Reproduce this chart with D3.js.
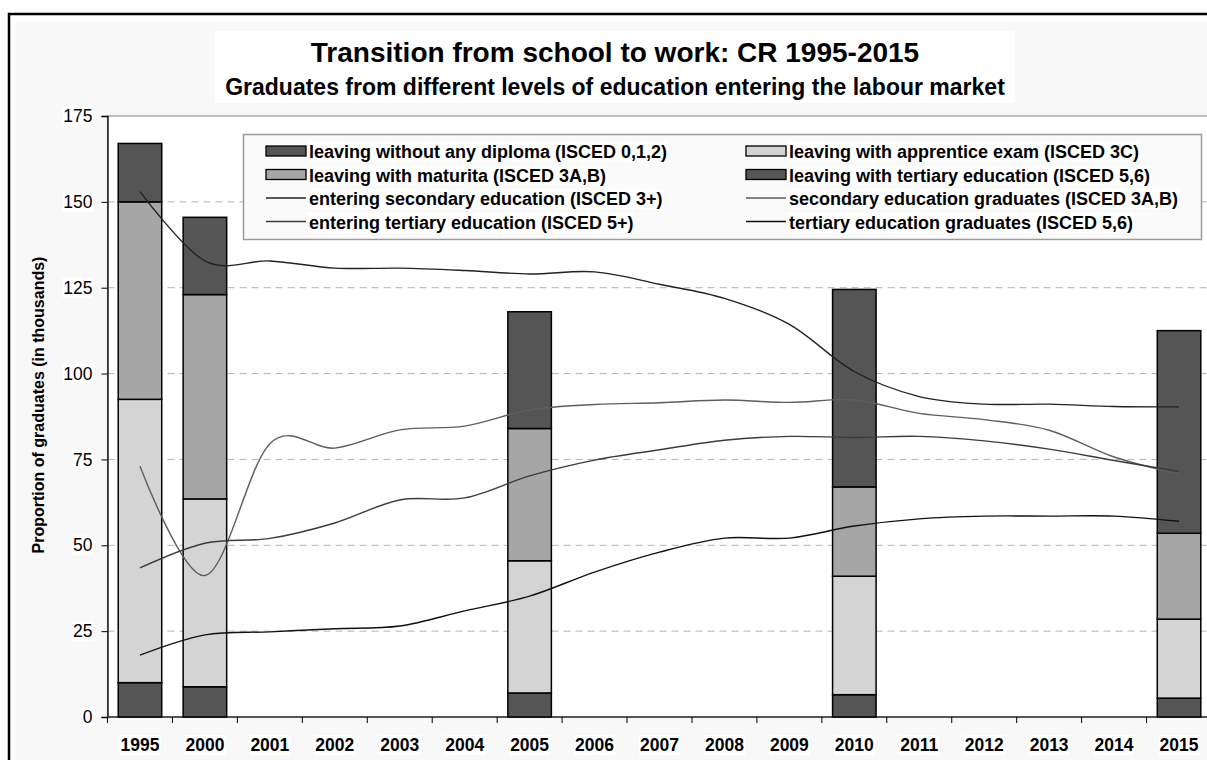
<!DOCTYPE html>
<html>
<head>
<meta charset="utf-8">
<script src="https://cdn.jsdelivr.net/npm/d3@7"></script>
<style>
  html, body { margin: 0; padding: 0; background: #ffffff; overflow: hidden; }
  svg { display: block; font-family: "Liberation Sans", Arial, sans-serif; }
</style>
</head>
<body>
<div id="chart"></div>
<script>
const categories = ['1995', '2000', '2001', '2002', '2003', '2004', '2005', '2006', '2007', '2008', '2009', '2010', '2011', '2012', '2013', '2014', '2015'];
const barYears = ['1995', '2000', '2005', '2010', '2015'];

// stacked bars (thousands)
const withoutDiploma = [10, 8.8, 7, 6.5, 5.5];
const apprentice = [82.5, 54.7, 38.5, 34.5, 23];
const maturita = [57.5, 59.5, 38.5, 26, 25];
const tertiary = [17, 22.5, 34, 57.5, 59];

// smoothed lines, one value per category
const enteringSecondary = [153, 132.8, 132.8, 130.7, 130.7, 130, 129, 129.6, 126, 121.9, 114.3, 100.6, 93.3, 91.1, 91.1, 90.4, 90.3];
const secondaryGraduates = [73, 41.2, 79.6, 78.3, 83.6, 84.7, 89.4, 91, 91.5, 92.3, 91.6, 92.3, 88.4, 86.6, 83.5, 75.7, 70.8];
const enteringTertiary = [43.4, 50.6, 52, 56.5, 63.2, 63.8, 70.2, 74.8, 77.8, 80.6, 81.7, 81.4, 81.7, 80.4, 78, 74.7, 71.5];
const tertiaryGraduates = [18, 23.9, 24.8, 25.7, 26.5, 30.9, 35.2, 42.2, 48, 52.1, 52.1, 55.6, 57.7, 58.5, 58.5, 58.5, 57];

const yTicks = [0, 25, 50, 75, 100, 125, 150, 175];

const barSeries = [
  { name: 'leaving without any diploma (ISCED 0,1,2)', values: withoutDiploma, fill: '#555555' },
  { name: 'leaving with apprentice exam (ISCED 3C)', values: apprentice, fill: '#d4d4d4' },
  { name: 'leaving with maturita (ISCED 3A,B)', values: maturita, fill: '#a6a6a6' },
  { name: 'leaving with tertiary education (ISCED 5,6)', values: tertiary, fill: '#555555' },
];
const lineSeries = [
  { name: 'entering secondary education (ISCED 3+)', values: enteringSecondary, stroke: '#222222' },
  { name: 'secondary education graduates (ISCED 3A,B)', values: secondaryGraduates, stroke: '#5e5e5e' },
  { name: 'entering tertiary education (ISCED 5+)', values: enteringTertiary, stroke: '#3c3c3c' },
  { name: 'tertiary education graduates (ISCED 5,6)', values: tertiaryGraduates, stroke: '#111111' },
];

const width = 1207;
const height = 760;
const plot = { left: 107.5, top: 116, right: 1211.5, bottom: 717 };

const svg = d3.select('#chart').append('svg')
  .attr('width', width)
  .attr('height', height);

// chart frame
svg.append('rect')
  .attr('x', 9).attr('y', 14)
  .attr('width', 1260).attr('height', 800)
  .attr('fill', '#ffffff')
  .attr('stroke', '#000000')
  .attr('stroke-width', 2.5);
svg.append('rect')
  .attr('x', 15.5).attr('y', 21.5)
  .attr('width', 1250).attr('height', 800)
  .attr('fill', '#f8f8f8');

const x = d3.scaleBand()
  .domain(categories)
  .range([plot.left, plot.right])
  .paddingInner(0.33)
  .paddingOuter(0.165);

const y = d3.scaleLinear()
  .domain([0, 175])
  .range([plot.bottom, plot.top]);

svg.append('rect')
  .attr('x', plot.left).attr('y', plot.top)
  .attr('width', plot.right - plot.left + 20).attr('height', plot.bottom - plot.top)
  .attr('fill', '#ffffff')
  .attr('stroke', '#9a9a9a')
  .attr('stroke-width', 1.2);

// gridlines
svg.append('g')
  .selectAll('line')
  .data(yTicks.filter(d => d > 0 && d < 175))
  .join('line')
    .attr('x1', plot.left).attr('x2', plot.right)
    .attr('y1', d => y(d)).attr('y2', d => y(d))
    .attr('stroke', '#b4b4b4')
    .attr('stroke-width', 1)
    .attr('stroke-dasharray', '7,5');

// y axis
const yAxis = svg.append('g')
  .attr('transform', `translate(${plot.left},0)`)
  .call(d3.axisLeft(y).tickValues(yTicks).tickSize(6).tickPadding(9));
yAxis.select('.domain').attr('stroke', '#000000').attr('stroke-width', 1.3);
yAxis.selectAll('line').attr('stroke', '#000000');
yAxis.selectAll('text')
  .attr('font-size', 17.5)
  .attr('fill', '#000000')
  .style('font-family', '"Liberation Sans", Arial, sans-serif');

// x axis with ticks on the category boundaries
const step = x.step();
const xAxis = svg.append('g')
  .attr('transform', `translate(0,${plot.bottom})`);
xAxis.append('line')
  .attr('x1', plot.left).attr('x2', plot.right)
  .attr('stroke', '#333333').attr('stroke-width', 1.5);
xAxis.selectAll('.xtick')
  .data(d3.range(categories.length + 1))
  .join('line')
    .attr('class', 'xtick')
    .attr('x1', i => plot.left + i * step).attr('x2', i => plot.left + i * step)
    .attr('y1', 0).attr('y2', 6)
    .attr('stroke', '#000000');
xAxis.selectAll('.xlabel')
  .data(categories)
  .join('text')
    .attr('class', 'xlabel')
    .attr('x', d => x(d) + x.bandwidth() / 2)
    .attr('y', 34)
    .attr('text-anchor', 'middle')
    .attr('font-size', 17.5)
    .attr('font-weight', 'bold')
    .text(d => d);

// stacked bars
const stackRows = barYears.map((year, i) => {
  const row = { year };
  barSeries.forEach((s, k) => { row['s' + k] = s.values[i]; });
  return row;
});
const stacked = d3.stack().keys(barSeries.map((s, k) => 's' + k))(stackRows);

svg.append('g')
  .selectAll('g')
  .data(stacked)
  .join('g')
    .attr('fill', (d, k) => barSeries[k].fill)
  .selectAll('rect')
  .data(d => d)
  .join('rect')
    .attr('x', d => x(d.data.year))
    .attr('width', x.bandwidth())
    .attr('y', d => y(d[1]))
    .attr('height', d => y(d[0]) - y(d[1]))
    .attr('stroke', '#000000')
    .attr('stroke-width', 1.5);

// smoothed lines
const line = d3.line()
  .x((d, i) => x(categories[i]) + x.bandwidth() / 2)
  .y(d => y(d))
  .curve(d3.curveCardinal.tension(0));

svg.append('g')
  .selectAll('path')
  .data(lineSeries)
  .join('path')
    .attr('d', d => line(d.values))
    .attr('fill', 'none')
    .attr('stroke', d => d.stroke)
    .attr('stroke-width', 1.4);

// white boxes behind labels
const backing = (sel, pad) => {
  sel.each(function() {
    const b = this.getBBox();
    d3.select(this.parentNode).insert('rect', () => this)
      .attr('x', b.x - pad).attr('y', b.y)
      .attr('width', b.width + pad * 2).attr('height', b.height)
      .attr('fill', '#ffffff');
  });
};
backing(yAxis.selectAll('text'), 1);
backing(xAxis.selectAll('.xlabel'), 1);

// titles
const titleG = svg.append('g');
titleG.append('rect')
  .attr('x', 215).attr('y', 31)
  .attr('width', 800).attr('height', 72)
  .attr('fill', '#ffffff');
titleG.append('text')
  .attr('x', 615).attr('y', 62)
  .attr('text-anchor', 'middle')
  .attr('font-size', 28)
  .attr('font-weight', 'bold')
  .text('Transition from school to work: CR 1995-2015');
titleG.append('text')
  .attr('x', 615).attr('y', 95)
  .attr('text-anchor', 'middle')
  .attr('font-size', 23)
  .attr('font-weight', 'bold')
  .text('Graduates from different levels of education entering the labour market');

// y axis title
const yTitle = svg.append('text')
  .attr('transform', `translate(44,405) rotate(-90)`)
  .attr('text-anchor', 'middle')
  .attr('font-size', 16)
  .attr('font-weight', 'bold')
  .text('Proportion of graduates (in thousands)');
backing(yTitle, 0);

// legend
const legendItems = [
  { item: barSeries[0], kind: 'bar' }, { item: barSeries[1], kind: 'bar' },
  { item: barSeries[2], kind: 'bar' }, { item: barSeries[3], kind: 'bar' },
  { item: lineSeries[0], kind: 'line' }, { item: lineSeries[1], kind: 'line' },
  { item: lineSeries[2], kind: 'line' }, { item: lineSeries[3], kind: 'line' },
];
const legend = svg.append('g');
legend.append('rect')
  .attr('x', 243.5).attr('y', 134.5)
  .attr('width', 958).attr('height', 105)
  .attr('fill', '#fafafa')
  .attr('stroke', '#9a9a9a')
  .attr('stroke-width', 1.5);

const colX = [266, 746];
const rowY = [152, 175.5, 199, 222.5];
const entries = legend.selectAll('.entry')
  .data(legendItems)
  .join('g')
    .attr('class', 'entry')
    .attr('transform', (d, i) => `translate(${colX[i % 2]},${rowY[Math.floor(i / 2)]})`);

entries.filter(d => d.kind === 'bar')
  .append('rect')
    .attr('x', 0).attr('y', -6)
    .attr('width', 40).attr('height', 10)
    .attr('fill', d => d.item.fill)
    .attr('stroke', '#000000')
    .attr('stroke-width', 1.3);
entries.filter(d => d.kind === 'line')
  .append('line')
    .attr('x1', 0).attr('x2', 40)
    .attr('y1', -1).attr('y2', -1)
    .attr('stroke', d => d.item.stroke)
    .attr('stroke-width', 1.4);
const legendText = entries.append('text')
  .attr('x', 43)
  .attr('y', 6)
  .attr('font-size', 18)
  .attr('font-weight', 'bold')
  .text(d => d.item.name);
backing(legendText, 1);
</script>
</body>
</html>
